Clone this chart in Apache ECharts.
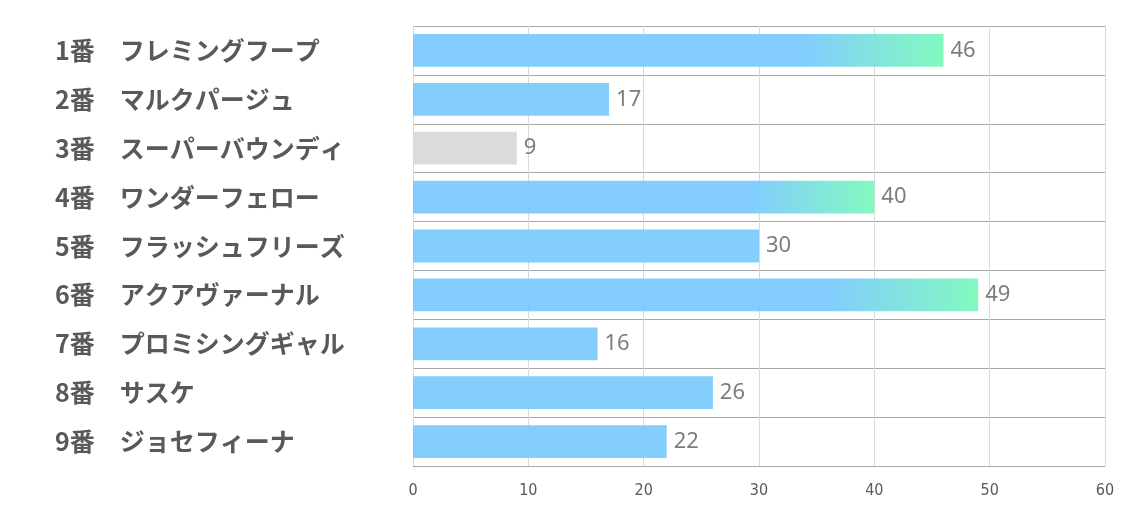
<!DOCTYPE html>
<html>
<head>
<meta charset="utf-8">
<script src="https://cdn.jsdelivr.net/npm/echarts@6/dist/echarts.min.js"></script>
<style>html,body{margin:0;padding:0;background:#fff;}#c{width:1134px;height:510px;}</style>
</head>
<body>
<div id="c"></div>
<script>
const categories = ['1番　フレミングフープ','2番　マルクパージュ','3番　スーパーバウンディ','4番　ワンダーフェロー','5番　フラッシュフリーズ','6番　アクアヴァーナル','7番　プロミシングギャル','8番　サスケ','9番　ジョセフィーナ'];
const values = [46, 17, 9, 40, 30, 49, 16, 26, 22];
const barStyles = ['gradient','solid','gray','gradient','solid','gradient','solid','solid','solid'];
const xTicks = [0, 10, 20, 30, 40, 50, 60];

const BLUE = '#7ccbfd', GREEN = '#7cf9bb', GRAY = '#d9d9d9';
function styleFor(kind) {
  if (kind === 'gradient') {
    return { color: new echarts.graphic.LinearGradient(0, 0, 1, 0, [
      { offset: 0, color: BLUE }, { offset: 0.74, color: BLUE }, { offset: 1, color: GREEN }]) };
  }
  if (kind === 'gray') return { color: GRAY };
  return { color: BLUE };
}
const data = values.map((v, i) => ({ value: v, itemStyle: styleFor(barStyles[i]) }));

const chart = echarts.init(document.getElementById('c'), null, { renderer: 'canvas' });
chart.setOption({
  animation: false,
  backgroundColor: '#ffffff',
  grid: { left: 413, right: 29, top: 26, bottom: 44, containLabel: false },
  xAxis: {
    type: 'value', min: xTicks[0], max: xTicks[xTicks.length - 1], interval: 10,
    axisLine: { show: false }, axisTick: { show: false },
    splitLine: { show: true, lineStyle: { color: '#d9d9d9', width: 1 } },
    axisLabel: { color: '#595959', fontSize: 16, margin: 17, fontFamily: '"Liberation Sans Narrow", "DejaVu Sans Condensed", sans-serif' }
  },
  yAxis: {
    type: 'category', data: categories, inverse: true,
    axisLine: { show: false }, axisTick: { show: false },
    splitLine: { show: true, lineStyle: { color: '#a6a6a6', width: 1 } },
    axisLabel: { align: 'left', margin: 358, color: '#595959', fontSize: 25, fontWeight: 'bold', fontFamily: '"Noto Sans CJK JP", sans-serif' }
  },
  series: [{
    type: 'bar', data: data, barCategoryGap: '33%',
    itemStyle: { opacity: 0.95 },
    label: { show: true, position: 'right', distance: 7, color: '#767676', fontSize: 22, fontFamily: '"Noto Sans", "Open Sans", sans-serif' }
  }]
});
</script>
</body>
</html>
